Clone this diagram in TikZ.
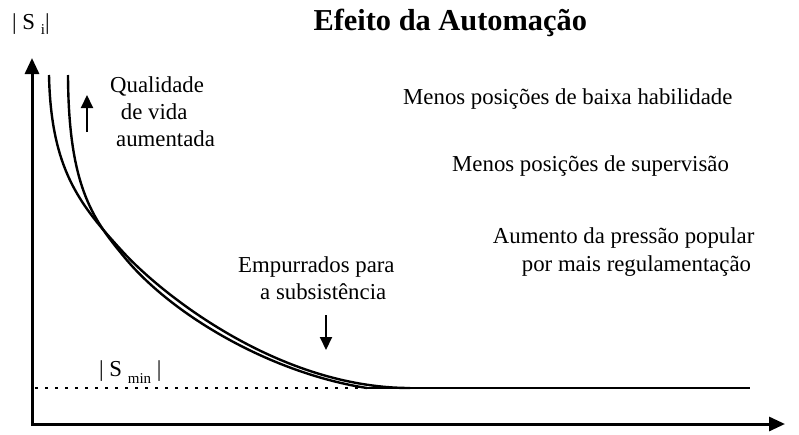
\documentclass[tikz,border=0pt]{standalone}
\usepackage{fontspec}
\setmainfont{Liberation Serif}
\usetikzlibrary{arrows.meta}
\tikzset{
  lbl/.style={anchor=base west, inner sep=0pt, font=\fontsize{22.8}{27}\selectfont},
  ttl/.style={anchor=base west, inner sep=0pt, font=\fontsize{30.4}{34}\selectfont\bfseries},
  axisline/.style={line width=3pt, {Triangle[length=16pt,width=14pt]}-{Triangle[length=16pt,width=14pt]}},
  curveline/.style={line width=2.4pt, line join=round},
  smallarrow/.style={line width=2pt, -{Triangle[length=13pt,width=12pt]}},
  dotline/.style={line width=1.3pt, dash pattern=on 2.5pt off 7.5pt}
}
\begin{document}
\begin{tikzpicture}[x=1pt,y=-1pt]
\useasboundingbox (0,0) rectangle (799,434);
% axes
\coordinate (ytip) at (32,58);
\coordinate (O) at (32,424);
\coordinate (xtip) at (785,424);
\draw[axisline] (ytip) -- (O) -- (xtip);
% minimum level
\coordinate (dstart) at (35,388);
\coordinate (kink) at (367,388);
\coordinate (fend) at (750,388);
\draw[dotline] (dstart) -- (kink);
\draw[curveline] (kink) -- (fend);
% curves
\draw[curveline] (49,75) .. controls (51,170) and (80,205) .. (123,252)
                         .. controls (163,295.6) and (280,388) .. (410,388);
\draw[curveline] (68,75) .. controls (68.5,185) and (92,218) .. (123,255.5)
                         .. controls (170,314) and (270,373) .. (kink);
% small arrows
\coordinate (upA) at (87,132);
\coordinate (upB) at (87,95);
\draw[smallarrow] (upA) -- (upB);
\coordinate (dnA) at (326,315);
\coordinate (dnB) at (326,350);
\draw[smallarrow] (dnA) -- (dnB);
% texts
\node[ttl] (title) at (313.3,30.7) {Efeito da Automação};
\node[lbl] (si) at (12,29.3) {| S \raisebox{-5pt}{\fontsize{15}{15}\selectfont i}|};
\node[lbl] (smin) at (99,376.7) {| S \raisebox{-6.6pt}{\fontsize{15}{15}\selectfont min} |};
\node[lbl] (q1) at (110,92.7) {Qualidade};
\node[lbl] (q2) at (120.7,119.3) {de vida};
\node[lbl] (q3) at (116,146.7) {aumentada};
\node[lbl] (m1) at (403,104) {Menos posições de baixa habilidade};
\node[lbl] (m2) at (452,171) {Menos posições de supervisão};
\node[lbl] (a1) at (492.7,243.3) {Aumento da pressão popular};
\node[lbl] (a2) at (521.7,271) {por mais regulamentação};
\node[lbl] (e1) at (238,272.7) {Empurrados para};
\node[lbl] (e2) at (260,299.3) {a subsistência};
\end{tikzpicture}
\end{document}
